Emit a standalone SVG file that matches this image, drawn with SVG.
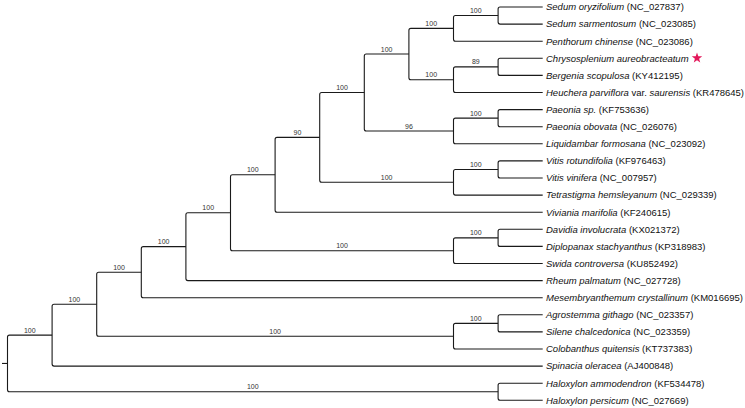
<svg xmlns="http://www.w3.org/2000/svg" width="745" height="408" viewBox="0 0 745 408">
<style>
.br{fill:none;stroke:#1a1a1a;stroke-width:1.1}
.lf{font-family:"Liberation Sans",Arial,sans-serif;font-size:9.5px;fill:#111}
.sp{font-style:italic}
.bs{font-family:"Liberation Sans",Arial,sans-serif;font-size:7px;fill:#333;text-anchor:middle}
</style>
<rect width="745" height="408" fill="#fff"/>
<g id="connectors" class="br">
<path d="M2 363.45H7.5"/>
<path d="M498.1 15.55V9Q498.1 7 500.1 7H542.7M498.1 15.55V22.1Q498.1 24.1 500.1 24.1H542.7"/>
<path d="M453.5 28.375V17.55Q453.5 15.55 455.5 15.55H498.1M453.5 28.375V39.2Q453.5 41.2 455.5 41.2H542.7"/>
<path d="M498.1 66.85V60.3Q498.1 58.3 500.1 58.3H542.7M498.1 66.85V73.4Q498.1 75.4 500.1 75.4H542.7"/>
<path d="M453.5 79.675V68.85Q453.5 66.85 455.5 66.85H498.1M453.5 79.675V90.5Q453.5 92.5 455.5 92.5H542.7"/>
<path d="M408.9 54.025V30.375Q408.9 28.375 410.9 28.375H453.5M408.9 54.025V77.675Q408.9 79.675 410.9 79.675H453.5"/>
<path d="M498.1 118.15V111.6Q498.1 109.6 500.1 109.6H542.7M498.1 118.15V124.7Q498.1 126.7 500.1 126.7H542.7"/>
<path d="M453.5 130.975V120.15Q453.5 118.15 455.5 118.15H498.1M453.5 130.975V141.8Q453.5 143.8 455.5 143.8H542.7"/>
<path d="M364.3 92.5V56.025Q364.3 54.025 366.3 54.025H408.9M364.3 92.5V128.975Q364.3 130.975 366.3 130.975H453.5"/>
<path d="M498.1 169.45V162.9Q498.1 160.9 500.1 160.9H542.7M498.1 169.45V176Q498.1 178 500.1 178H542.7"/>
<path d="M453.5 182.275V171.45Q453.5 169.45 455.5 169.45H498.1M453.5 182.275V193.1Q453.5 195.1 455.5 195.1H542.7"/>
<path d="M319.7 137.39V94.5Q319.7 92.5 321.7 92.5H364.3M319.7 137.39V180.275Q319.7 182.275 321.7 182.275H453.5"/>
<path d="M275.1 174.79V139.39Q275.1 137.39 277.1 137.39H319.7M275.1 174.79V210.2Q275.1 212.2 277.1 212.2H542.7"/>
<path d="M498.1 237.85V231.3Q498.1 229.3 500.1 229.3H542.7M498.1 237.85V244.4Q498.1 246.4 500.1 246.4H542.7"/>
<path d="M453.5 250.675V239.85Q453.5 237.85 455.5 237.85H498.1M453.5 250.675V261.5Q453.5 263.5 455.5 263.5H542.7"/>
<path d="M230.5 212.73V176.79Q230.5 174.79 232.5 174.79H275.1M230.5 212.73V248.675Q230.5 250.675 232.5 250.675H453.5"/>
<path d="M185.9 246.67V214.73Q185.9 212.73 187.9 212.73H230.5M185.9 246.67V278.6Q185.9 280.6 187.9 280.6H542.7"/>
<path d="M141.3 272.18V248.67Q141.3 246.67 143.3 246.67H185.9M141.3 272.18V295.7Q141.3 297.7 143.3 297.7H542.7"/>
<path d="M498.1 323.35V316.8Q498.1 314.8 500.1 314.8H542.7M498.1 323.35V329.9Q498.1 331.9 500.1 331.9H542.7"/>
<path d="M453.5 336.18V325.35Q453.5 323.35 455.5 323.35H498.1M453.5 336.18V347Q453.5 349 455.5 349H542.7"/>
<path d="M96.7 304.18V274.18Q96.7 272.18 98.7 272.18H141.3M96.7 304.18V334.18Q96.7 336.18 98.7 336.18H453.5"/>
<path d="M52.1 335.14V306.18Q52.1 304.18 54.1 304.18H96.7M52.1 335.14V364.1Q52.1 366.1 54.1 366.1H542.7"/>
<path d="M498.1 391.75V385.2Q498.1 383.2 500.1 383.2H542.7M498.1 391.75V398.3Q498.1 400.3 500.1 400.3H542.7"/>
<path d="M7.5 363.45V337.14Q7.5 335.14 9.5 335.14H52.1M7.5 363.45V389.75Q7.5 391.75 9.5 391.75H498.1"/>
</g>
<g id="support-values" class="bs">
<g id="nA"><text x="475.8" y="13.05">100</text></g>
<g id="nB"><text x="431.2" y="25.9">100</text></g>
<g id="nC"><text x="475.8" y="64.35">89</text></g>
<g id="nD"><text x="431.2" y="77.2">100</text></g>
<g id="nE"><text x="386.6" y="51.5">100</text></g>
<g id="nF"><text x="475.8" y="115.65">100</text></g>
<g id="nG"><text x="408.9" y="128.5">96</text></g>
<g id="nH"><text x="342" y="90">100</text></g>
<g id="nI"><text x="475.8" y="166.95">100</text></g>
<g id="nJ"><text x="386.6" y="179.8">100</text></g>
<g id="nK"><text x="297.4" y="134.9">90</text></g>
<g id="nL"><text x="252.8" y="172.3">100</text></g>
<g id="nM"><text x="475.8" y="235.35">100</text></g>
<g id="nN"><text x="342" y="248.2">100</text></g>
<g id="nO"><text x="208.2" y="210.2">100</text></g>
<g id="nP"><text x="163.6" y="244.2">100</text></g>
<g id="nQ"><text x="119" y="269.7">100</text></g>
<g id="nR"><text x="475.8" y="320.85">100</text></g>
<g id="nS"><text x="275.1" y="333.7">100</text></g>
<g id="nT"><text x="74.4" y="301.7">100</text></g>
<g id="nU"><text x="29.8" y="332.6">100</text></g>
<g id="nV"><text x="252.8" y="389.25">100</text></g>
</g>
<g id="leaves" class="lf">
<g id="leaf01"><text x="546" y="10.3"><tspan class="sp">Sedum oryzifolium</tspan> (NC_027837)</text></g>
<g id="leaf02"><text x="546" y="27.4"><tspan class="sp">Sedum sarmentosum</tspan> (NC_023085)</text></g>
<g id="leaf03"><text x="546" y="44.5"><tspan class="sp">Penthorum chinense</tspan> (NC_023086)</text></g>
<g id="leaf04"><text x="546" y="61.6"><tspan class="sp">Chrysosplenium aureobracteatum</tspan></text><polygon points="697,52.5 698.29,56.22 702.23,56.3 699.09,58.68 700.23,62.45 697,60.2 693.77,62.45 694.91,58.68 691.77,56.3 695.71,56.22" fill="#e3175a"/></g>
<g id="leaf05"><text x="546" y="78.7"><tspan class="sp">Bergenia scopulosa</tspan> (KY412195)</text></g>
<g id="leaf06"><text x="546" y="95.8"><tspan class="sp">Heuchera parviflora</tspan> var. <tspan class="sp">saurensis</tspan> (KR478645)</text></g>
<g id="leaf07"><text x="546" y="112.9"><tspan class="sp">Paeonia sp.</tspan> (KF753636)</text></g>
<g id="leaf08"><text x="546" y="130"><tspan class="sp">Paeonia obovata</tspan> (NC_026076)</text></g>
<g id="leaf09"><text x="546" y="147.1"><tspan class="sp">Liquidambar formosana</tspan> (NC_023092)</text></g>
<g id="leaf10"><text x="546" y="164.2"><tspan class="sp">Vitis rotundifolia</tspan> (KF976463)</text></g>
<g id="leaf11"><text x="546" y="181.3"><tspan class="sp">Vitis vinifera</tspan> (NC_007957)</text></g>
<g id="leaf12"><text x="546" y="198.4"><tspan class="sp">Tetrastigma hemsleyanum</tspan> (NC_029339)</text></g>
<g id="leaf13"><text x="546" y="215.5"><tspan class="sp">Viviania marifolia</tspan> (KF240615)</text></g>
<g id="leaf14"><text x="546" y="232.6"><tspan class="sp">Davidia involucrata</tspan> (KX021372)</text></g>
<g id="leaf15"><text x="546" y="249.7"><tspan class="sp">Diplopanax stachyanthus</tspan> (KP318983)</text></g>
<g id="leaf16"><text x="546" y="266.8"><tspan class="sp">Swida controversa</tspan> (KU852492)</text></g>
<g id="leaf17"><text x="546" y="283.9"><tspan class="sp">Rheum palmatum</tspan> (NC_027728)</text></g>
<g id="leaf18"><text x="546" y="301"><tspan class="sp">Mesembryanthemum crystallinum</tspan> (KM016695)</text></g>
<g id="leaf19"><text x="546" y="318.1"><tspan class="sp">Agrostemma githago</tspan> (NC_023357)</text></g>
<g id="leaf20"><text x="546" y="335.2"><tspan class="sp">Silene chalcedonica</tspan> (NC_023359)</text></g>
<g id="leaf21"><text x="546" y="352.3"><tspan class="sp">Colobanthus quitensis</tspan> (KT737383)</text></g>
<g id="leaf22"><text x="546" y="369.4"><tspan class="sp">Spinacia oleracea</tspan> (AJ400848)</text></g>
<g id="leaf23"><text x="546" y="386.5"><tspan class="sp">Haloxylon ammodendron</tspan> (KF534478)</text></g>
<g id="leaf24"><text x="546" y="403.6"><tspan class="sp">Haloxylon persicum</tspan> (NC_027669)</text></g>
</g>
</svg>
